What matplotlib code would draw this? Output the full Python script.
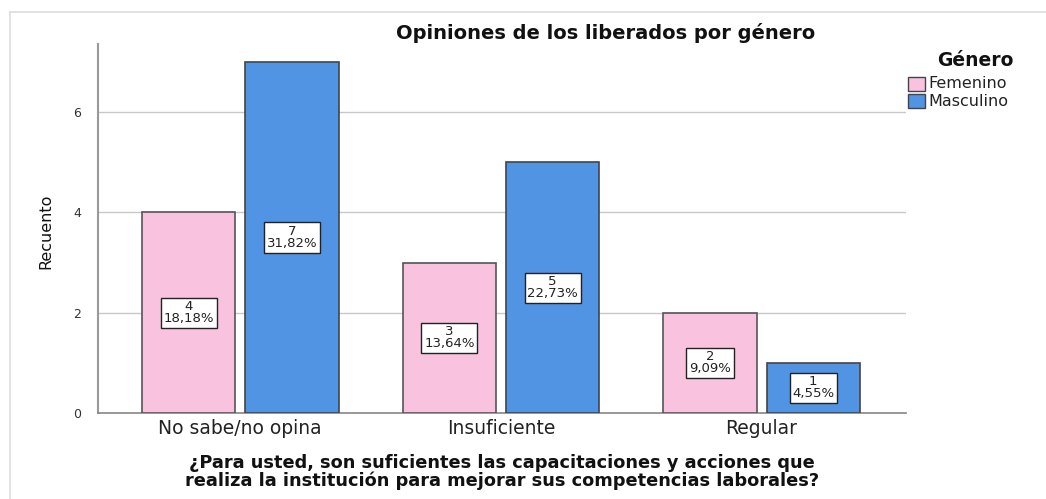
import matplotlib
matplotlib.use("Agg")
import matplotlib.pyplot as plt
from matplotlib.patches import Rectangle
import numpy as np

categories = ["No sabe/no opina", "Insuficiente", "Regular"]
femenino = [4, 3, 2]
masculino = [7, 5, 1]
fem_pct = ["18,18%", "13,64%", "9,09%"]
mas_pct = ["31,82%", "22,73%", "4,55%"]
series_names = ["Femenino", "Masculino"]
yticks = [0, 2, 4, 6]
title = "Opiniones de los liberados por género"
xtitle_lines = ["¿Para usted, son suficientes las capacitaciones y acciones que",
                "realiza la institución para mejorar sus competencias laborales?"]
ytitle = "Recuento"
legend_title = "Género"

pink = "#F9C2DF"
blue = "#5194E4"
FONT = "DejaVu Sans"

W, H = 1046, 499
fig = plt.figure(figsize=(W/100, H/100), dpi=100)
fig.patch.set_facecolor("white")

def fx(px): return px / W
def fy(py): return 1 - py / H

ax = fig.add_axes([fx(98), fy(413), fx(906) - fx(98), fy(44) - fy(413)])
x = np.arange(len(categories))
bw = 0.358
off = 0.198
bars_f = ax.bar(x - off, femenino, bw, color=pink, edgecolor="#555555", linewidth=1.2, zorder=3)
bars_m = ax.bar(x + off, masculino, bw, color=blue, edgecolor="#444444", linewidth=1.2, zorder=3)

for bars, vals, pcts in [(bars_f, femenino, fem_pct), (bars_m, masculino, mas_pct)]:
    for b, v, p in zip(bars, vals, pcts):
        ax.text(b.get_x() + b.get_width()/2, v/2, f"{v}\n{p}", ha="center", va="center",
                fontsize=9.5, family=FONT, color="#222222", linespacing=0.9, zorder=5,
                bbox=dict(boxstyle="square,pad=0.2", facecolor="white", edgecolor="#222222", linewidth=1.0))

ax.set_xlim(-0.546, 2.554)
ax.set_ylim(0, 7.36)
ax.set_yticks(yticks)
ax.set_yticklabels([str(t) for t in yticks], fontsize=9, family=FONT, color="#333333")
ax.set_xticks(x)
ax.set_xticklabels(categories, fontsize=13.5, family=FONT, color="#222222")
ax.tick_params(axis="y", length=0, pad=12)
ax.tick_params(axis="x", length=0, pad=4)
ax.grid(axis="y", color="#C8C8C8", linewidth=1.0, zorder=0)
for s in ["top", "right"]:
    ax.spines[s].set_visible(False)
ax.spines["left"].set_color("#999999")
ax.spines["left"].set_linewidth(1.5)
ax.spines["bottom"].set_color("#888888")
ax.spines["bottom"].set_linewidth(1.2)

# axis titles
fig.text(fx(46), fy(231), ytitle, rotation=90, ha="center", va="center", fontsize=11.5,
         family=FONT, color="#111111")
for i, line in enumerate(xtitle_lines):
    fig.text(fx(502), fy(463 + i * 18), line, ha="center", va="center", fontsize=12.8,
             fontweight="bold", family=FONT, color="#111111")
fig.text(fx(606), fy(33), title, ha="center", va="center",
         fontsize=14, fontweight="bold", family=FONT, color="#111111")

# legend
fig.text(fx(975), fy(61), legend_title, ha="center", va="center", fontsize=13.5, fontweight="bold",
         family=FONT, color="#111111")
for i, (name, col) in enumerate(zip(series_names, [pink, blue])):
    yc = 84 + i * 17
    fig.patches.append(Rectangle((fx(908), fy(yc + 7)), fx(17), fy(0) - fy(14), transform=fig.transFigure,
                                 facecolor=col, edgecolor="#444444", linewidth=1.0))
    fig.text(fx(928), fy(yc), name, ha="left", va="center", fontsize=11.5,
             family=FONT, color="#222222")

# outer frame
fig.add_artist(plt.Line2D([fx(10), 1], [fy(12), fy(12)], transform=fig.transFigure, color="#DDDDDD", linewidth=1.2))
fig.add_artist(plt.Line2D([fx(10), fx(10)], [0, fy(12)], transform=fig.transFigure, color="#DDDDDD", linewidth=1.2))

fig.savefig("out.png", dpi=100, facecolor="white")
